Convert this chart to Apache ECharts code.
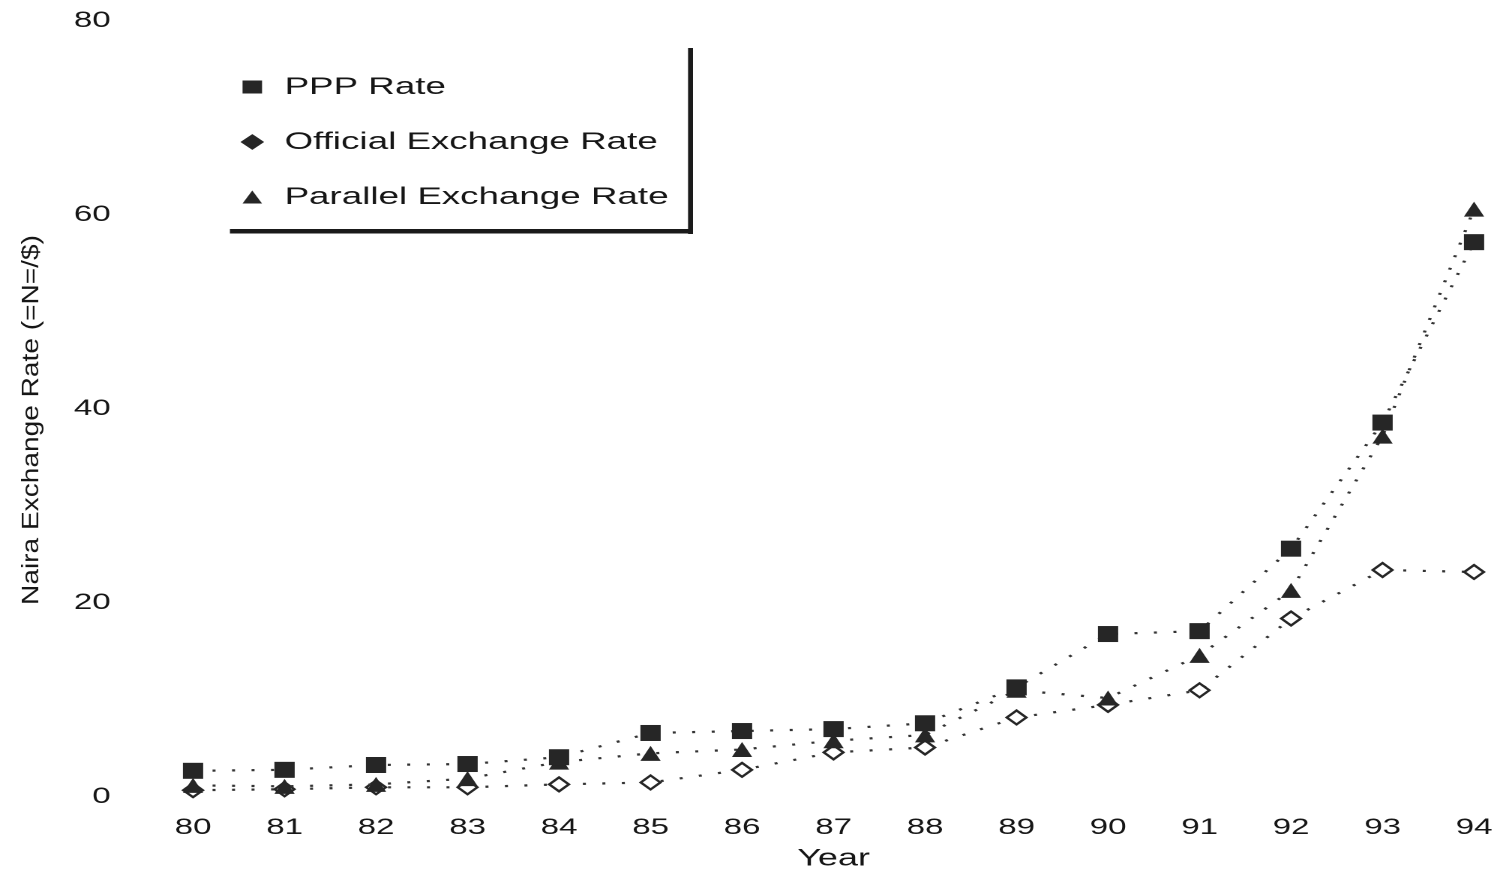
<!DOCTYPE html>
<html>
<head>
<meta charset="utf-8">
<script src="https://cdn.jsdelivr.net/npm/echarts@6/dist/echarts.min.js"></script>
<style>
html,body{margin:0;padding:0;background:#fff;overflow:hidden;}
#chart{width:1002px;height:873px;transform:scaleX(1.5);transform-origin:0 0;}
</style>
</head>
<body>
<div id="chart"></div>
<script>
const years = ['80','81','82','83','84','85','86','87','88','89','90','91','92','93','94'];
const pppRate = [2.7, 2.8, 3.3, 3.4, 4.1, 6.6, 6.8, 7.0, 7.6, 11.3, 16.8, 17.1, 25.6, 38.6, 57.2];
const officialRate = [0.7, 0.8, 1.0, 1.0, 1.3, 1.5, 2.8, 4.6, 5.1, 8.2, 9.5, 11.0, 18.4, 23.4, 23.2];
const parallelRate = [1.2, 1.1, 1.3, 1.9, 3.6, 4.5, 4.9, 5.8, 6.4, 11.0, 10.2, 14.6, 21.3, 37.2, 60.6];
const yTicks = [0, 20, 40, 60, 80];

const ink = '#262626';
const txt = '#161616';
const font = '"Liberation Sans", Arial, sans-serif';
const chart = echarts.init(document.getElementById('chart'), null, {devicePixelRatio: 2});

const dotted = {color: '#333', width: 2.2, type: [2, 11]};

chart.setOption({
  backgroundColor: '#fff',
  animation: false,
  grid: {left: 128.7, right: 19.3, top: 21, bottom: 76, outerBoundsMode: 'none', containLabel: false},
  xAxis: {
    type: 'category',
    data: years,
    boundaryGap: false,
    axisLine: {show: false},
    axisTick: {show: false},
    splitLine: {show: false},
    axisLabel: {margin: 20, fontSize: 22, fontFamily: font, color: txt},
    name: 'Year',
    nameLocation: 'middle',
    nameGap: 50,
    nameTextStyle: {fontSize: 24, fontFamily: font, color: txt}
  },
  yAxis: {
    type: 'value',
    min: yTicks[0],
    max: yTicks[yTicks.length - 1],
    interval: 20,
    axisLine: {show: false},
    axisTick: {show: false},
    splitLine: {show: false},
    axisLabel: {margin: 55, fontSize: 22, fontFamily: font, color: txt}
  },
  legend: {
    orient: 'vertical',
    left: 155.7,
    top: 67,
    itemWidth: 13,
    itemHeight: 13,
    itemGap: 25,
    textStyle: {fontSize: 24.5, fontFamily: font, color: txt, lineHeight: 30, padding: [0, 0, 0, 10]},
    data: [
      {name: 'PPP Rate', icon: 'rect'},
      {name: 'Official Exchange Rate', icon: 'diamond'},
      {name: 'Parallel Exchange Rate', icon: 'triangle'}
    ]
  },
  graphic: [
    {type: 'rect', shape: {x: 458.7, y: 48, width: 3.3, height: 186}, style: {fill: '#1a1a1a'}, silent: true},
    {type: 'rect', shape: {x: 153.3, y: 229, width: 308.7, height: 4.5}, style: {fill: '#1a1a1a'}, silent: true},
    {
      type: 'text', x: 21, y: 420, rotation: Math.PI / 2, scaleX: 1.17, scaleY: 1 / 1.5,
      style: {text: 'Naira Exchange Rate (=N=/$)', fontSize: 24, fontFamily: font, fill: txt, align: 'center', verticalAlign: 'middle'},
      silent: true
    }
  ],
  series: [
    {
      name: 'Official Exchange Rate',
      type: 'line',
      data: officialRate,
      symbol: 'emptyDiamond',
      symbolSize: [13, 14],
      itemStyle: {color: ink, borderColor: ink, borderWidth: 2.5},
      lineStyle: dotted,
      z: 2
    },
    {
      name: 'Parallel Exchange Rate',
      type: 'line',
      data: parallelRate,
      symbol: 'triangle',
      symbolSize: [13.5, 15],
      itemStyle: {color: ink},
      lineStyle: dotted,
      z: 3
    },
    {
      name: 'PPP Rate',
      type: 'line',
      data: pppRate,
      symbol: 'rect',
      symbolSize: [13.5, 16],
      itemStyle: {color: ink},
      lineStyle: dotted,
      z: 4
    }
  ]
});
</script>
</body>
</html>
